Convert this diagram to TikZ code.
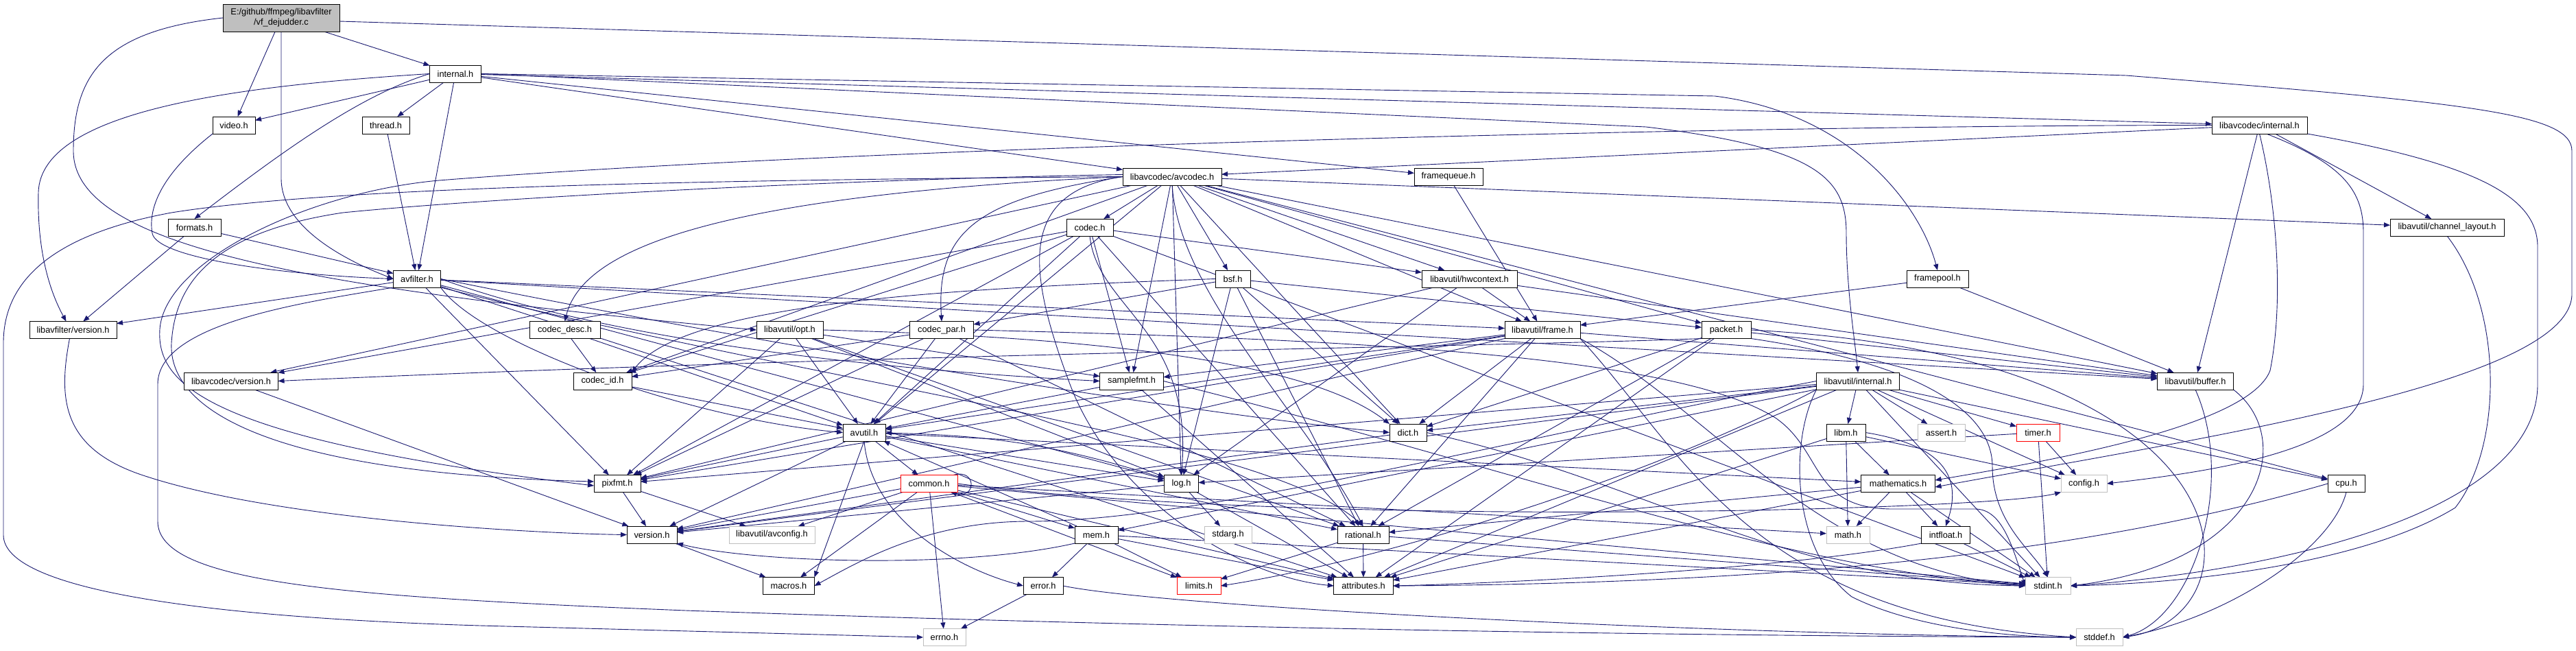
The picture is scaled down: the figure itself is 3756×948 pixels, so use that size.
\documentclass[tikz,border=0pt]{standalone}
\usepackage{fontspec}
\setmainfont{Liberation Sans}
\usetikzlibrary{arrows.meta}
\definecolor{edgecol}{HTML}{191970}
\definecolor{grayb}{HTML}{BFBFBF}
\definecolor{redb}{HTML}{FF0000}
\pgfdeclarelayer{back}
\pgfdeclarelayer{edges}
\pgfsetlayers{back,edges,main}
\tikzset{
  box/.style={draw=black, line width=1pt, fill=white, minimum height=25pt, inner sep=0pt, outer sep=0pt, font=\fontsize{12.8pt}{15pt}\selectfont, text=black},
  sysbox/.style={box, draw=grayb},
  redbox/.style={box, draw=redb},
  edg/.style={draw=edgecol, line width=0.9pt, -{Triangle[length=9pt,width=7pt]}},
}
\begin{document}
\begin{tikzpicture}[x=1pt,y=-1pt]
\useasboundingbox (0,0) rectangle (3756,948);
\begin{pgfonlayer}{back}
\fill[white] (0,0) rectangle (3756,948);
\end{pgfonlayer}
% nodes
\node[box, fill=grayb, minimum width=170pt, minimum height=40pt, align=center] (T) at (410,26) {E:/github/ffmpeg/libavfilter\\/vf\_dejudder.c};
\node[box, minimum width=75pt] (inth) at (664,107.5) {internal.h};
\node[box, minimum width=62pt] (video) at (341,182.5) {video.h};
\node[box, minimum width=69pt] (thread) at (562.5,182.5) {thread.h};
\node[box, minimum width=77pt] (formats) at (283.5,331.5) {formats.h};
\node[box, minimum width=69pt] (avfilter) at (608,406.5) {avfilter.h};
\node[box, minimum width=127pt] (lavfv) at (106.5,481) {libavfilter/version.h};
\node[box, minimum width=144pt] (avcodec) at (1709,257.5) {libavcodec/avcodec.h};
\node[box, minimum width=100pt] (fqueue) at (2112,257.5) {framequeue.h};
\node[box, minimum width=90pt] (fpool) at (2825,406.5) {framepool.h};
\node[box, minimum width=139pt] (lacint) at (3294.5,182.5) {libavcodec/internal.h};
\node[box, minimum width=166pt] (chlayout) at (3568,331.5) {libavutil/channel\_layout.h};
\node[box, minimum width=68pt] (codec) at (1589,331.5) {codec.h};
\node[box, minimum width=51pt] (bsf) at (1797.5,406.5) {bsf.h};
\node[box, minimum width=139pt] (hwctx) at (2142.5,406.5) {libavutil/hwcontext.h};
\node[box, minimum width=103pt] (cdesc) at (823.5,481) {codec\_desc.h};
\node[box, minimum width=97pt] (opt) at (1151.5,481) {libavutil/opt.h};
\node[box, minimum width=93pt] (cpar) at (1373,481) {codec\_par.h};
\node[box, minimum width=110pt] (frame) at (2249,481) {libavutil/frame.h};
\node[box, minimum width=72pt] (packet) at (2517,481) {packet.h};
\node[box, minimum width=111pt] (buffer) at (3201,555.5) {libavutil/buffer.h};
\node[box, minimum width=137pt] (lacv) at (337,555.5) {libavcodec/version.h};
\node[box, minimum width=85pt] (cid) at (878.5,555.5) {codec\_id.h};
\node[box, minimum width=93pt] (sfmt) at (1650,555.5) {samplefmt.h};
\node[box, minimum width=121pt] (lauint) at (2709,555.5) {libavutil/internal.h};
\node[box, minimum width=62pt] (avutil) at (1260,630.5) {avutil.h};
\node[box, minimum width=54pt] (dict) at (2053,630.5) {dict.h};
\node[box, minimum width=57pt] (libm) at (2691.5,630.5) {libm.h};
\node[sysbox, minimum width=69pt] (assert) at (2830.5,630.5) {assert.h};
\node[redbox, minimum width=63pt] (timer) at (2971.5,630.5) {timer.h};
\node[box, minimum width=68pt] (pixfmt) at (900,705) {pixfmt.h};
\node[redbox, minimum width=83pt] (common) at (1354.5,705) {common.h};
\node[box, minimum width=50pt] (log) at (1722.5,705) {log.h};
\node[box, minimum width=108pt] (math) at (2767.5,705) {mathematics.h};
\node[sysbox, minimum width=67pt] (config) at (3038.5,705) {config.h};
\node[box, minimum width=54pt] (cpu) at (3421,705) {cpu.h};
\node[box, minimum width=73pt] (version) at (950.5,779.5) {version.h};
\node[sysbox, minimum width=125pt] (avconfig) at (1125.5,779.5) {libavutil/avconfig.h};
\node[box, minimum width=63pt] (mem) at (1598.5,779.5) {mem.h};
\node[sysbox, minimum width=69pt] (stdarg) at (1790.5,779.5) {stdarg.h};
\node[box, minimum width=75pt] (rational) at (1987.5,779.5) {rational.h};
\node[sysbox, minimum width=63pt] (mathh) at (2694.5,779.5) {math.h};
\node[box, minimum width=70.5pt] (intfloat) at (2837,779.5) {intfloat.h};
\node[box, minimum width=75pt] (macros) at (1150,854) {macros.h};
\node[box, minimum width=58pt] (error) at (1521,854) {error.h};
\node[redbox, minimum width=64pt] (limits) at (1748,854) {limits.h};
\node[box, minimum width=86.5pt] (attr) at (1988,854) {attributes.h};
\node[sysbox, minimum width=66pt] (stdint) at (2986,854) {stdint.h};
\node[sysbox, minimum width=62pt] (errno) at (1377,929) {errno.h};
\node[sysbox, minimum width=68pt] (stddef) at (3061,929) {stddef.h};

\begin{pgfonlayer}{edges}
\foreach \a/\b in {T/inth, T/video,
 inth/avfilter, inth/fqueue, inth/thread, inth/video, inth/avcodec, inth/lacint,
 thread/avfilter, formats/avfilter, formats/lavfv,
 avfilter/attr, avfilter/buffer, avfilter/frame, avfilter/log, avfilter/pixfmt, avfilter/lavfv,
 avcodec/sfmt, avcodec/avutil, avcodec/buffer, avcodec/cpu, avcodec/chlayout, avcodec/dict, avcodec/frame, avcodec/hwctx, avcodec/log, avcodec/bsf, avcodec/codec, avcodec/cid, avcodec/packet, avcodec/lacv,
 fqueue/frame, fpool/buffer, fpool/frame,
 lacint/avcodec, lacint/buffer, lacint/chlayout,
 codec/stdint, codec/avutil, codec/hwctx, codec/pixfmt, codec/rational, codec/sfmt, codec/cid, codec/lacv,
 bsf/dict, bsf/log, bsf/rational, bsf/cpar, bsf/packet,
 cdesc/avutil, cdesc/cid,
 cpar/avutil, cpar/rational, cpar/pixfmt, cpar/cid,
 cid/avutil,
 packet/attr, packet/buffer, packet/dict, packet/rational,
 lacv/version,
 hwctx/buffer, hwctx/frame, hwctx/log, hwctx/pixfmt,
 opt/rational, opt/avutil, opt/log, opt/pixfmt, opt/sfmt,
 frame/avutil, frame/buffer, frame/dict, frame/rational, frame/sfmt, frame/pixfmt, frame/version,
 sfmt/avutil, sfmt/attr,
 lauint/stdint, lauint/assert, lauint/config, lauint/attr, lauint/timer, lauint/cpu, lauint/dict, lauint/mem, lauint/pixfmt, lauint/version, lauint/libm,
 avutil/common, avutil/rational, avutil/version, avutil/math, avutil/log, avutil/pixfmt,
 dict/version,
 libm/mathh, libm/config, libm/attr, libm/math,
 timer/config, timer/stdint, timer/log,
 pixfmt/avconfig, pixfmt/version,
 common/errno, common/limits, common/mathh, common/stdint, common/attr, common/macros, common/version, common/avconfig, common/mem,
 log/stdarg, log/attr, log/version,
 math/stdint, math/mathh, math/attr, math/rational, math/intfloat,
 version/macros,
 mem/limits, mem/stdint, mem/attr, mem/error, mem/avutil,
 rational/stdint, rational/limits, rational/attr,
 intfloat/stdint,
 error/errno}
 {\draw[edg] (\a) -- (\b);}

% routed connectors
\draw[edg] (T.west) .. controls (150,45) and (107,110) .. (107,220) .. controls (107,360) and (450,420) .. (opt.west);
\draw[edg] (T.south) -- (410,260) .. controls (410,330) and (500,378) .. (avfilter.west);
\draw[edg] ([yshift=-5pt]T.east) -- (3100,110) .. controls (3600,150) and (3750,165) .. (3750,220) -- (3750,430) .. controls (3745,560) and (3200,640) .. ([yshift=-5pt]math.east);
\draw[edg] (inth.west) .. controls (350,125) and (60,160) .. (56,280) .. controls (54,360) and (70,420) .. ([xshift=-10pt]lavfv.north);
\draw[edg] (inth.west) .. controls (520,140) and (400,230) .. (formats.north);
\draw[edg] (inth.east) -- (2400,185) .. controls (2650,215) and (2692,260) .. (2692,340) .. controls (2692,420) and (2705,500) .. (lauint.north);
\draw[edg] (inth.east) -- (2500,140) .. controls (2700,165) and (2800,300) .. (fpool.north);
\draw[edg] (video.south west) .. controls (240,250) and (215,300) .. (222,340) .. controls (228,375) and (400,400) .. (avfilter.west);
\draw[edg] ([xshift=-5pt]lavfv.south) .. controls (85,580) and (90,650) .. (200,690) .. controls (400,760) and (800,778) .. (version.west);
\draw[edg] (avfilter.south west) .. controls (450,440) and (230,470) .. (230,560) -- (230,760) .. controls (230,850) and (500,870) .. (1000,890) .. controls (1800,918) and (2500,927) .. (stddef.west);
\draw[edg] (avfilter.south east) .. controls (700,500) and (1000,610) .. (avutil.west);
\draw[edg] (avfilter.east) .. controls (1200,520) and (1800,610) .. (dict.west);
\draw[edg] (avfilter.east) .. controls (900,500) and (1300,540) .. (sfmt.west);
\draw[edg] (avfilter.south east) .. controls (1200,560) and (1850,640) .. (rational.north);
\draw[edg] (avcodec.west) .. controls (1100,262) and (500,270) .. (250,310) .. controls (60,345) and (5,420) .. (5,500) -- (5,780) .. controls (5,860) and (300,900) .. (700,912) -- (errno.west);
\draw[edg] ([yshift=3pt]avcodec.west) .. controls (1200,262) and (700,290) .. (500,310) .. controls (300,340) and (255,420) .. (250,500) .. controls (245,600) and (400,690) .. ([yshift=3pt]pixfmt.west);
\draw[edg] (lacint.west) .. controls (2500,183) and (1240,215) .. (640,263) .. controls (450,280) and (240,380) .. (233,480) .. controls (228,560) and (300,640) .. ([yshift=-3pt]pixfmt.west);
\draw[edg] (avcodec.west) .. controls (1480,280) and (1500,400) .. (1560,560) .. controls (1620,720) and (1800,840) .. (attr.west);
\draw[edg] (avcodec.west) .. controls (1420,290) and (1365,340) .. (cpar.north);
\draw[edg] (avcodec.west) .. controls (1050,285) and (850,360) .. (cdesc.north);
\draw[edg] (avcodec.south) .. controls (1720,430) and (1900,600) .. (rational.north);
\draw[edg] (lacint.south east) .. controls (3620,240) and (3700,290) .. (3700,360) -- (3700,560) .. controls (3700,740) and (3350,830) .. (stdint.east);
\draw[edg] ([xshift=10pt]lacint.south) .. controls (3420,240) and (3446,280) .. (3446,340) -- (3446,560) .. controls (3446,660) and (3200,690) .. (config.east);
\draw[edg] (lacint.south) .. controls (3320,300) and (3330,440) .. (3310,540) .. controls (3280,620) and (3000,670) .. ([yshift=5pt]math.east);
\draw[edg] (chlayout.south) .. controls (3650,450) and (3650,650) .. (3580,740) .. controls (3450,820) and (3200,850) .. (stdint.east);
\draw[edg] (buffer.south east) .. controls (3350,640) and (3300,820) .. (stdint.east);
\draw[edg] (buffer.south) .. controls (3260,700) and (3200,900) .. (stddef.east);
\draw[edg] (cpu.south) .. controls (3400,800) and (3250,900) .. (stddef.east);
\draw[edg] (cpu.west) .. controls (3100,790) and (2700,850) .. (attr.east);
\draw[edg] (packet.east) .. controls (3300,520) and (3300,900) .. (stddef.east);
\draw[edg] (packet.south east) .. controls (2800,530) and (2905,600) .. (2905,680) .. controls (2905,760) and (2960,800) .. (stdint.north);
\draw[edg] (packet.south west) .. controls (2200,505) and (1300,515) .. (lacv.east);
\draw[edg] (frame.south east) .. controls (2500,600) and (2650,830) .. (stdint.west);
\draw[edg] (frame.south east) .. controls (2450,650) and (2550,900) .. (stddef.west);
\draw[edg] (cpar.east) .. controls (2000,495) and (2450,520) .. (2590,610) .. controls (2660,660) and (2640,742) .. (2760,742) -- (2880,742) .. controls (2920,742) and (2935,800) .. (stdint.west);
\draw[edg] (sfmt.east) .. controls (2200,680) and (2600,830) .. (stdint.west);
\draw[edg] (dict.east) .. controls (2400,700) and (2600,850) .. (stdint.west);
\draw[edg] (lauint.west) .. controls (2200,640) and (1750,760) .. (1500,760) .. controls (1350,760) and (1250,820) .. (macros.east);
\draw[edg] (lauint.south west) .. controls (2400,700) and (2000,820) .. (limits.east);
\draw[edg] (lauint.south west) .. controls (2610,640) and (2610,800) .. (2700,870) .. controls (2800,920) and (2950,929) .. (stddef.west);
\draw[edg] (common.east) .. controls (1900,770) and (2900,745) .. (config.south west);
\draw[edg] (avutil.south) -- (macros.north east);
\draw[edg] (avutil.south) .. controls (1270,760) and (1400,830) .. (error.west);
\draw[edg] (mem.south west) .. controls (1400,830) and (1100,820) .. (version.south east);
\draw[edg] (libm.east) .. controls (2840,650) and (2860,700) .. (intfloat.north);
\draw[edg] (intfloat.south west) .. controls (2600,830) and (2200,850) .. (attr.east);
\draw[edg] (error.east) .. controls (1700,885) and (2500,925) .. (stddef.west);
\draw[edg] (opt.east) .. controls (1550,490) and (1900,520) .. (dict.north west);
\draw[edg] (bsf.west) .. controls (1400,420) and (1000,440) .. (cid.north east);
\draw[edg] (codec.south) .. controls (1600,450) and (1740,480) .. (log.north);
\draw[edg] (log) to[bend right=8] (avutil);
\draw[edg] ([xshift=-6pt]common.north east) .. controls ([xshift=28pt,yshift=10pt]common.north east) and ([xshift=28pt,yshift=-10pt]common.south east) .. ([xshift=-10pt]common.south east);
\end{pgfonlayer}
\end{tikzpicture}
\end{document}
